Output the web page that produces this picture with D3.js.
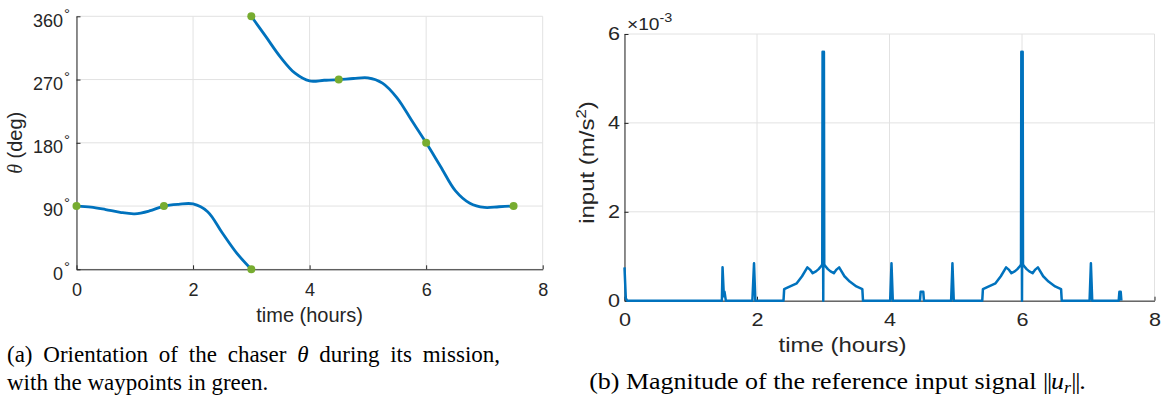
<!DOCTYPE html>
<html><head><meta charset="utf-8">
<script src="https://cdn.jsdelivr.net/npm/d3@7"></script>
<style>body{margin:0;background:#fff} svg{display:block}</style>
</head><body>
<svg id="c" width="1165" height="411"></svg>
<script>
// ---------- data ----------
const xTicks = [0, 2, 4, 6, 8];
const thetaTicks = [0, 90, 180, 270, 360];
const inputTicks = [0, 2, 4, 6];

// orientation theta (deg), first leg
const thetaT1 = [0, 0.25, 0.5, 0.75, 1, 1.25, 1.5, 1.75, 2, 2.25, 2.5, 2.75, 3];
const thetaV1 = [90, 88.5, 85, 81, 79, 83, 90, 92.5, 93, 82, 52, 23, 0];
// orientation theta (deg), second leg (wrapped to 360)
const thetaT2 = [3, 3.25, 3.5, 3.75, 4, 4.25, 4.5, 4.75, 5, 5.25, 5.5, 5.75, 6, 6.25, 6.5, 6.75, 7, 7.25, 7.5];
const thetaV2 = [360, 331, 302, 279, 268, 269, 270, 271.5, 272.5, 265, 244, 212, 180, 146, 112, 94, 88, 89, 90];

// waypoints
const wpT = [0, 1.5, 3, 3, 4.5, 6, 7.5];
const wpV = [90, 90, 0, 360, 270, 180, 90];

// reference input magnitude (x 1e-3 m/s^2)
const inputT = [
  0, 0.02, 0.04,
  1.47, 1.48, 1.50, 1.51, 1.53,
  1.93, 1.955, 1.975,
  2.40, 2.41, 2.50, 2.60, 2.68, 2.76, 2.80, 2.84, 2.89, 2.93, 2.97, 2.985, 2.99, 3.00, 3.01, 3.015, 3.03, 3.07, 3.11, 3.16, 3.20, 3.24, 3.32, 3.40, 3.50, 3.59, 3.60,
  4.01, 4.03, 4.05,
  4.46, 4.47, 4.51, 4.52,
  4.93, 4.95, 4.97,
  5.40, 5.41, 5.50, 5.60, 5.68, 5.76, 5.80, 5.84, 5.89, 5.93, 5.97, 5.985, 5.99, 6.00, 6.01, 6.015, 6.03, 6.07, 6.11, 6.16, 6.20, 6.24, 6.32, 6.40, 6.50, 6.59, 6.60,
  7.02, 7.04, 7.06,
  7.46, 7.47, 7.49, 7.5
];
const inputV = [
  0.75, 0.05, 0,
  0, 0.75, 0.1, 0.2, 0,
  0, 0.84, 0,
  0, 0.26, 0.32, 0.39, 0.55, 0.75, 0.70, 0.62, 0.66, 0.71, 0.78, 0.82, 5.6, 0, 5.6, 0.82, 0.78, 0.71, 0.66, 0.62, 0.70, 0.75, 0.55, 0.43, 0.32, 0.26, 0,
  0, 0.84, 0,
  0, 0.2, 0.2, 0,
  0, 0.84, 0,
  0, 0.26, 0.32, 0.39, 0.55, 0.75, 0.70, 0.62, 0.66, 0.71, 0.78, 0.82, 5.6, 0, 5.6, 0.82, 0.78, 0.71, 0.66, 0.62, 0.70, 0.75, 0.55, 0.43, 0.32, 0.26, 0,
  0, 0.84, 0,
  0, 0.2, 0.2, 0
];

// ---------- style ----------
const sans = "'Liberation Sans', Arial, Helvetica, sans-serif";
const serif = "'Liberation Serif', 'Times New Roman', serif";
const blue = '#0072BD', green = '#77AC30', axisCol = '#262626', gridCol = '#e2e2e2';

const svg = d3.select('#c');

function drawGrid(g, xs, ys, xt, yt) {
  const [x0, x1] = xs.range(), [y0, y1] = ys.range();
  g.selectAll('line.gx').data(xt).join('line').attr('class', 'gx')
    .attr('x1', d => xs(d)).attr('x2', d => xs(d)).attr('y1', y0).attr('y2', y1)
    .attr('stroke', gridCol).attr('stroke-width', 1);
  g.selectAll('line.gy').data(yt).join('line').attr('class', 'gy')
    .attr('x1', x0).attr('x2', x1).attr('y1', d => ys(d)).attr('y2', d => ys(d))
    .attr('stroke', gridCol).attr('stroke-width', 1);
}
function styleAxis(g) {
  g.select('.domain').attr('stroke', axisCol).attr('stroke-width', 1);
  g.selectAll('.tick line').attr('stroke', axisCol);
  g.selectAll('text').attr('fill', axisCol).attr('font-family', sans).attr('font-size', 18);
}
const fmt = d3.format('d');

// ---------- left chart ----------
const xL = d3.scaleLinear().domain([0, 8]).range([76.5, 542.7]);
const yL = d3.scaleLinear().domain([0, 360]).range([269.3, 16.3]);
const gL = svg.append('g');
drawGrid(gL, xL, yL, xTicks, thetaTicks);

const axLB = gL.append('g').attr('transform', `translate(0,${yL(0)})`)
  .call(d3.axisBottom(xL).tickValues(xTicks).tickSizeInner(-4).tickSizeOuter(0).tickPadding(14).tickFormat(fmt));
styleAxis(axLB);
const axLL = gL.append('g').attr('transform', `translate(${xL(0)},0)`)
  .call(d3.axisLeft(yL).tickValues(thetaTicks).tickSizeInner(-4).tickSizeOuter(0).tickPadding(6.5).tickFormat(fmt));
styleAxis(axLL);
axLL.selectAll('.tick text').attr('dy', '0.54em')
  .append('tspan').attr('font-size', 15).attr('dx', 1).attr('dy', -7.8).text('°');

const lineL = d3.line().x(d => xL(d[0])).y(d => yL(d[1])).curve(d3.curveCatmullRom.alpha(0.5));
gL.append('path').datum(d3.zip(thetaT1, thetaV1)).attr('d', lineL)
  .attr('fill', 'none').attr('stroke', blue).attr('stroke-width', 2.8).attr('stroke-linecap', 'round');
gL.append('path').datum(d3.zip(thetaT2, thetaV2)).attr('d', lineL)
  .attr('fill', 'none').attr('stroke', blue).attr('stroke-width', 2.8).attr('stroke-linecap', 'round');
gL.selectAll('circle.wp').data(d3.zip(wpT, wpV)).join('circle').attr('class', 'wp')
  .attr('cx', d => xL(d[0])).attr('cy', d => yL(d[1])).attr('r', 4).attr('fill', green);

gL.append('text').attr('x', (xL(0) + xL(8)) / 2).attr('y', 321.5).attr('text-anchor', 'middle')
  .attr('font-family', sans).attr('font-size', 20).attr('fill', axisCol).text('time (hours)');
const yLab = gL.append('text').attr('transform', `translate(21.5,${(yL(0) + yL(360)) / 2}) rotate(-90)`)
  .attr('text-anchor', 'middle').attr('font-family', sans).attr('font-size', 20).attr('fill', axisCol);
yLab.append('tspan').attr('font-family', serif).attr('font-style', 'italic').text('θ');
yLab.append('tspan').text(' (deg)');

// ---------- right chart ----------
const xR = d3.scaleLinear().domain([0, 8]).range([624.5, 1154.5]);
const yR = d3.scaleLinear().domain([0, 6]).range([300.7, 34]);
const gR = svg.append('g');
drawGrid(gR, xR, yR, xTicks, inputTicks);
const stretch = 1.2;

const axRB = gR.append('g').attr('transform', `translate(0,${yR(0)})`)
  .call(d3.axisBottom(xR).tickValues(xTicks).tickSizeInner(-4).tickSizeOuter(0).tickPadding(13).tickFormat(fmt));
styleAxis(axRB);
axRB.selectAll('.tick text').attr('transform', `scale(${stretch},1)`);
const axRL = gR.append('g').attr('transform', `translate(${xR(0)},0)`)
  .call(d3.axisLeft(yR).tickValues(inputTicks).tickSizeInner(-4).tickSizeOuter(0).tickPadding(4.5 / stretch).tickFormat(fmt));
styleAxis(axRL);
axRL.selectAll('.tick text').attr('transform', `scale(${stretch},1)`);

const lineR = d3.line().x(d => xR(d[0])).y(d => yR(d[1]));
gR.append('path').datum(d3.zip(inputT, inputV)).attr('d', lineR)
  .attr('fill', 'none').attr('stroke', blue).attr('stroke-width', 2.5).attr('stroke-linejoin', 'round');

const expo = gR.append('text').attr('transform', `translate(627,30) scale(${stretch},1)`)
  .attr('font-family', sans).attr('font-size', 16).attr('fill', axisCol);
expo.append('tspan').text('×10');
expo.append('tspan').attr('font-size', 12).attr('dy', -8).text('-3');

gR.append('text').attr('transform', `translate(842.5,351.5) scale(${stretch},1)`).attr('text-anchor', 'middle')
  .attr('font-family', sans).attr('font-size', 20).attr('fill', axisCol).text('time (hours)');
const yLabR = gR.append('text').attr('transform', `translate(594,162.5) rotate(-90) scale(${stretch},1)`)
  .attr('text-anchor', 'middle').attr('font-family', sans).attr('font-size', 20).attr('fill', axisCol);
yLabR.append('tspan').text('input (m/s');
yLabR.append('tspan').attr('font-size', 14).attr('dy', -8).text('2');
yLabR.append('tspan').attr('dy', 8).text(')');

// ---------- captions ----------
const capA1 = svg.append('text').attr('x', 7).attr('y', 362)
  .attr('font-family', serif).attr('font-size', 23).attr('fill', '#000');
capA1.append('tspan').text('(a) Orientation of the chaser ');
capA1.append('tspan').attr('font-style', 'italic').text('θ');
capA1.append('tspan').text(' during its mission,');
const natural = capA1.node().getComputedTextLength();
const nSpaces = 7;
capA1.attr('word-spacing', Math.max(0, (488 - natural) / nSpaces));

svg.append('text').attr('x', 7).attr('y', 390)
  .attr('font-family', serif).attr('font-size', 23).attr('fill', '#000')
  .text('with the waypoints in green.');

const capB = svg.append('text').attr('transform', 'translate(837.5,389) scale(1.13,1)').attr('text-anchor', 'middle')
  .attr('font-family', serif).attr('font-size', 23).attr('fill', '#000');
capB.append('tspan').text('(b) Magnitude of the reference input signal ');
capB.append('tspan').attr('letter-spacing', -1).text('||');
capB.append('tspan').attr('font-style', 'italic').text('u');
capB.append('tspan').attr('font-style', 'italic').attr('font-size', 16).attr('dy', 4).text('r');
capB.append('tspan').attr('dy', -4).attr('letter-spacing', -1).text('||');
capB.append('tspan').text('.');
</script>
</body></html>
